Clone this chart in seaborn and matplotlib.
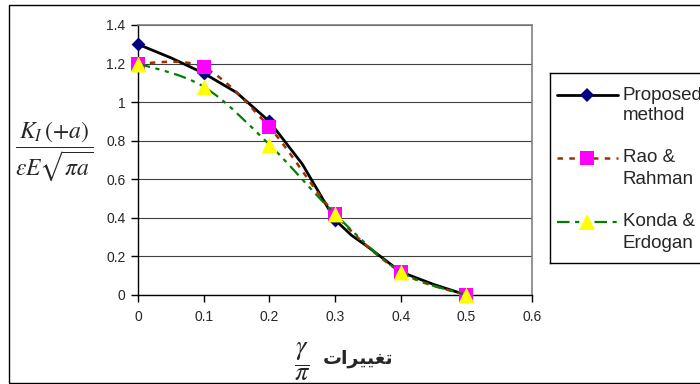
import numpy as np
import matplotlib
matplotlib.use('Agg')
import matplotlib.pyplot as plt
import seaborn as sns
from matplotlib.path import Path
from matplotlib.patches import PathPatch, Rectangle

# data
x_marks = [0.0, 0.1, 0.2, 0.3, 0.4, 0.5]
proposed_marks = [1.30, 1.15, 0.90, 0.39, 0.12, 0.0]
proposed_line_x = [0.0, 0.05, 0.1, 0.15, 0.2, 0.25, 0.3, 0.325, 0.35, 0.4, 0.45, 0.5]
proposed_line_y = [1.30, 1.23, 1.15, 1.05, 0.90, 0.68, 0.39, 0.31, 0.25, 0.12, 0.055, 0.0]
rao = [1.20, 1.18, 0.87, 0.42, 0.12, 0.0]
konda = [1.20, 1.08, 0.78, 0.42, 0.12, 0.0]

series_names = ['Proposed\nmethod', 'Rao &\nRahman', 'Konda &\nErdogan']
x_ticks = [0, 0.1, 0.2, 0.3, 0.4, 0.5, 0.6]
y_ticks = [0, 0.2, 0.4, 0.6, 0.8, 1.0, 1.2, 1.4]
x_word = 'تغییرات'

sns.set_style('white')
plt.rcParams['font.family'] = ['Liberation Sans', 'DejaVu Sans']
plt.rcParams['mathtext.fontset'] = 'stix'
plt.rcParams['lines.scale_dashes'] = False

BLACK_LINE = dict(color='black', lw=2.0)
RAO_STYLE = dict(color='#993300', lw=1.8, dash=(4, 4.5))
KONDA_STYLE = dict(color='#008000', lw=1.6, dash=(9, 4, 3, 4, 3, 4))


def shape_arabic(word):
    '''
    picks contextual forms for the few letters used and returns them in visual order
    (matplotlib does no arabic shaping or bidi by itself)
    '''
    # isolated, final, initial, medial
    forms = {
        'ت': ('\uFE95', '\uFE96', '\uFE97', '\uFE98'),
        'غ': ('\uFECD', '\uFECE', '\uFECF', '\uFED0'),
        'ی': ('\uFBFC', '\uFBFD', '\uFBFE', '\uFBFF'),
        'ر': ('\uFEAD', '\uFEAE', None, None),
        'ا': ('\uFE8D', '\uFE8E', None, None),
    }
    out = []
    for i, ch in enumerate(word):
        dual = forms[ch][2] is not None
        prev_joins = i > 0 and forms[word[i - 1]][2] is not None
        next_joins = dual and i < len(word) - 1
        if prev_joins and next_joins:
            out.append(forms[ch][3])
        elif prev_joins:
            out.append(forms[ch][1])
        elif next_joins:
            out.append(forms[ch][2])
        else:
            out.append(forms[ch][0])
    return ''.join(reversed(out))


def smooth_path(xs, ys):
    '''
    bezier path through the points, same idea as excel's smoothed line
    '''
    p = np.column_stack([xs, ys]).astype(float)
    n = len(p)
    verts = [p[0]]
    codes = [Path.MOVETO]
    for i in range(n - 1):
        p0 = p[i - 1] if i > 0 else p[i]
        p3 = p[i + 2] if i + 2 < n else p[i + 1]
        c1 = p[i] + (p[i + 1] - p0) / 6
        c2 = p[i + 1] - (p3 - p[i]) / 6
        verts += [c1, c2, p[i + 1]]
        codes += [Path.CURVE4] * 3
    return Path(verts, codes)


fig = plt.figure(figsize=(7, 3.84), dpi=100)
W, H = 700, 384

# outer chart border
fig.add_artist(Rectangle((9 / W, 1 / H), 1.0, 378 / H, transform=fig.transFigure,
                         fill=False, edgecolor='black', lw=1.0))

ax = fig.add_axes([138 / W, 1 - 295 / H, (532 - 138) / W, (295 - 25) / H])

# proposed method
sns.lineplot(x=proposed_line_x, y=proposed_line_y, ax=ax, color='black', lw=2.0, zorder=3)
sns.scatterplot(x=x_marks, y=proposed_marks, ax=ax, marker='D', s=50, color='#000080',
                edgecolor='#000080', linewidth=0, zorder=4, clip_on=False)

# rao & rahman
ax.add_patch(PathPatch(smooth_path(x_marks, rao), facecolor='none', edgecolor=RAO_STYLE['color'],
                       lw=RAO_STYLE['lw'], linestyle=(0, RAO_STYLE['dash']), zorder=5))
sns.scatterplot(x=x_marks, y=rao, ax=ax, marker='s', s=100, color='#FF00FF',
                edgecolor='#FF00FF', linewidth=0, zorder=6, clip_on=False)

# konda & erdogan
ax.add_patch(PathPatch(smooth_path(x_marks, konda), facecolor='none', edgecolor=KONDA_STYLE['color'],
                       lw=KONDA_STYLE['lw'], linestyle=(0, KONDA_STYLE['dash']), zorder=7))
sns.scatterplot(x=x_marks, y=konda, ax=ax, marker='^', s=130, color='#FFFF00',
                edgecolor='#FFFF00', linewidth=0, zorder=8, clip_on=False)

ax.set_xlim(0, 0.6)
ax.set_ylim(0, 1.4)
ax.set_xticks(x_ticks)
ax.set_xticklabels([f'{v:g}' for v in x_ticks])
ax.set_yticks(y_ticks)
ax.set_yticklabels([f'{v:g}' for v in y_ticks])
ax.yaxis.grid(True, color='#404040', lw=0.8)
ax.xaxis.grid(False)
ax.set_axisbelow(True)
for side in ['left', 'bottom']:
    ax.spines[side].set_color('black')
    ax.spines[side].set_linewidth(1.0)
for side in ['top', 'right']:
    ax.spines[side].set_color('#808080')
    ax.spines[side].set_linewidth(1.2)
ax.tick_params(direction='out', length=5, width=1, color='black', labelsize=10,
               bottom=True, left=True)
ax.tick_params(axis='x', pad=6)
ax.tick_params(axis='y', pad=4)

# axis titles
fig.text(54 / W, 1 - 152 / H, r'$\dfrac{K_I\,(+a)}{\varepsilon E\sqrt{\pi a}}$',
         fontsize=17, ha='center', va='center')
fig.text(302 / W, 1 - 362 / H, r'$\dfrac{\gamma}{\pi}$', fontsize=19, ha='center', va='center')
fig.text(358 / W, 1 - 358 / H, shape_arabic(x_word), fontsize=13.5, fontweight='bold',
         family=['DejaVu Sans'], ha='center', va='center')

# legend box, drawn by hand so the handle sits on the first text line
lax = fig.add_axes([550 / W, 1 - 263 / H, 200 / W, (263 - 73) / H])
lax.set_xlim(550, 750)
lax.set_ylim(263, 73)
lax.set_xticks([])
lax.set_yticks([])
for sp in lax.spines.values():
    sp.set_color('black')
    sp.set_linewidth(1.0)

rows = [95, 158, 222]
lax.plot([557, 618], [rows[0]] * 2, **BLACK_LINE)
lax.plot([587], [rows[0]], marker='D', ms=7, color='#000080', mew=0)
lax.plot([557, 618], [rows[1]] * 2, color=RAO_STYLE['color'], lw=RAO_STYLE['lw'],
         dashes=RAO_STYLE['dash'])
lax.plot([587], [rows[1]], marker='s', ms=10, color='#FF00FF', mew=0)
lax.plot([557, 618], [rows[2]] * 2, color=KONDA_STYLE['color'], lw=KONDA_STYLE['lw'],
         dashes=KONDA_STYLE['dash'])
lax.plot([587], [rows[2]], marker='^', ms=11, color='#FFFF00', mew=0)
for y0, name in zip(rows, series_names):
    for k, line in enumerate(name.split('\n')):
        lax.text(623, y0 + 21 * k, line, fontsize=13.5, va='center', ha='left')

fig.savefig('out.png', dpi=100)
